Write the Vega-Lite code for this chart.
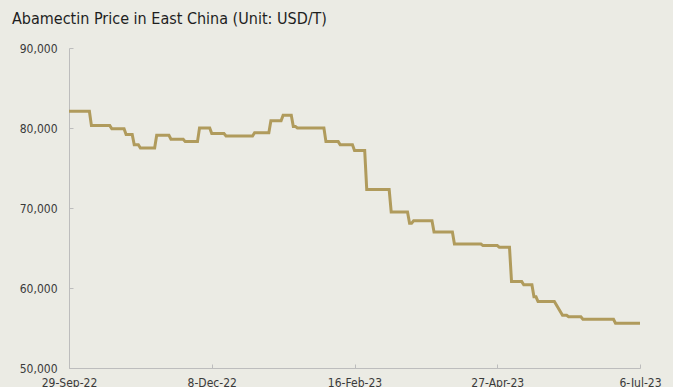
{
  "$schema": "https://vega.github.io/schema/vega-lite/v6.json",
  "width": 571,
  "height": 320,
  "autosize": "none",
  "padding": {"left": 69, "top": 48, "right": 33, "bottom": 19},
  "background": "#ebebe4",
  "title": {
    "text": "Abamectin Price in East China (Unit: USD/T)",
    "anchor": "start",
    "frame": "group",
    "dx": -57,
    "offset": 15,
    "font": "DejaVu Sans Condensed, Roboto",
    "fontSize": 16,
    "fontWeight": "normal",
    "color": "#1e1e1e"
  },
  "config": {
    "view": {"stroke": null},
    "axis": {
      "labelFont": "DejaVu Sans Condensed, Roboto",
      "labelFontSize": 12,
      "labelColor": "#3a3a3a",
      "domainColor": "#bdbdbd",
      "tickColor": "#bdbdbd",
      "grid": false,
      "title": null
    }
  },
  "data": {
    "values": [
      {"date": "2022-09-29", "price": 82100}, {"date": "2022-10-09", "price": 82100},
      {"date": "2022-10-10", "price": 80300}, {"date": "2022-10-19", "price": 80300},
      {"date": "2022-10-20", "price": 79900}, {"date": "2022-10-26", "price": 79900},
      {"date": "2022-10-27", "price": 79200}, {"date": "2022-10-30", "price": 79200},
      {"date": "2022-10-31", "price": 77900}, {"date": "2022-11-02", "price": 77900},
      {"date": "2022-11-03", "price": 77500}, {"date": "2022-11-10", "price": 77500},
      {"date": "2022-11-11", "price": 79100}, {"date": "2022-11-17", "price": 79100},
      {"date": "2022-11-18", "price": 78600}, {"date": "2022-11-24", "price": 78600},
      {"date": "2022-11-25", "price": 78300}, {"date": "2022-12-01", "price": 78300},
      {"date": "2022-12-02", "price": 80000}, {"date": "2022-12-07", "price": 80000},
      {"date": "2022-12-08", "price": 79300}, {"date": "2022-12-14", "price": 79300},
      {"date": "2022-12-15", "price": 79000}, {"date": "2022-12-28", "price": 79000},
      {"date": "2022-12-29", "price": 79400}, {"date": "2023-01-05", "price": 79400},
      {"date": "2023-01-06", "price": 80900}, {"date": "2023-01-11", "price": 80900},
      {"date": "2023-01-12", "price": 81600}, {"date": "2023-01-16", "price": 81600},
      {"date": "2023-01-17", "price": 80200}, {"date": "2023-01-18", "price": 80200},
      {"date": "2023-01-19", "price": 80000}, {"date": "2023-02-01", "price": 80000},
      {"date": "2023-02-02", "price": 78300}, {"date": "2023-02-08", "price": 78300},
      {"date": "2023-02-09", "price": 77900}, {"date": "2023-02-15", "price": 77900},
      {"date": "2023-02-16", "price": 77200}, {"date": "2023-02-21", "price": 77200},
      {"date": "2023-02-22", "price": 72300}, {"date": "2023-03-05", "price": 72300},
      {"date": "2023-03-06", "price": 69500}, {"date": "2023-03-14", "price": 69500},
      {"date": "2023-03-15", "price": 68100}, {"date": "2023-03-16", "price": 68100},
      {"date": "2023-03-17", "price": 68400}, {"date": "2023-03-26", "price": 68400},
      {"date": "2023-03-27", "price": 67000}, {"date": "2023-04-05", "price": 67000},
      {"date": "2023-04-06", "price": 65500}, {"date": "2023-04-19", "price": 65500},
      {"date": "2023-04-20", "price": 65300}, {"date": "2023-04-27", "price": 65300},
      {"date": "2023-04-28", "price": 65100}, {"date": "2023-05-03", "price": 65100},
      {"date": "2023-05-04", "price": 60800}, {"date": "2023-05-09", "price": 60800},
      {"date": "2023-05-10", "price": 60400}, {"date": "2023-05-14", "price": 60400},
      {"date": "2023-05-15", "price": 58900}, {"date": "2023-05-16", "price": 58900},
      {"date": "2023-05-17", "price": 58300}, {"date": "2023-05-25", "price": 58300},
      {"date": "2023-05-29", "price": 56600}, {"date": "2023-05-31", "price": 56600},
      {"date": "2023-06-01", "price": 56400}, {"date": "2023-06-07", "price": 56400},
      {"date": "2023-06-08", "price": 56100}, {"date": "2023-06-23", "price": 56100},
      {"date": "2023-06-24", "price": 55600}, {"date": "2023-07-06", "price": 55600}
    ]
  },
  "mark": {"type": "line", "color": "#b09b5c", "strokeWidth": 3, "interpolate": "linear", "clip": false},
  "encoding": {
    "x": {
      "field": "date",
      "type": "temporal",
      "scale": {
        "type": "utc",
        "domain": [
          {"year": 2022, "month": 9, "date": 29, "utc": true},
          {"year": 2023, "month": 7, "date": 6, "utc": true}
        ],
        "nice": false
      },
      "axis": {
        "values": [
          {"year": 2022, "month": 9, "date": 29, "utc": true},
          {"year": 2022, "month": 12, "date": 8, "utc": true},
          {"year": 2023, "month": 2, "date": 16, "utc": true},
          {"year": 2023, "month": 4, "date": 27, "utc": true},
          {"year": 2023, "month": 7, "date": 6, "utc": true}
        ],
        "labelExpr": "utcFormat(datum.value, '%-d-%b-%y')",
        "tickSize": -4,
        "labelPadding": 13,
        "labelFlush": false,
        "labelOverlap": false,
        "labelBound": false
      }
    },
    "y": {
      "field": "price",
      "type": "quantitative",
      "scale": {"domain": [50000, 90000], "nice": false, "zero": false},
      "axis": {
        "values": [50000, 60000, 70000, 80000, 90000],
        "labelExpr": "format(datum.value, ',')",
        "tickSize": -4,
        "labelPadding": 16
      }
    }
  }
}
